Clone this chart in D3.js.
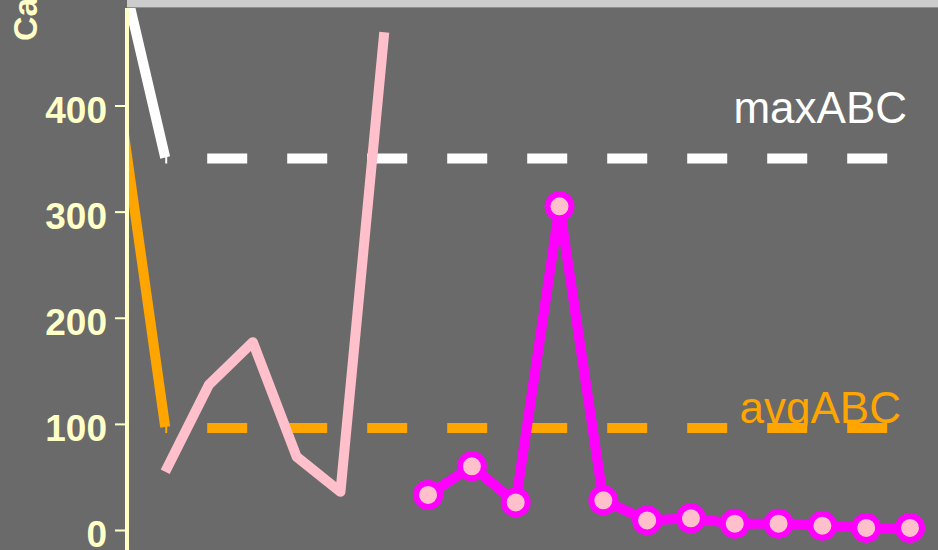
<!DOCTYPE html>
<html>
<head>
<meta charset="utf-8">
<script src="https://cdn.jsdelivr.net/npm/d3@7"></script>
<style>
  body { margin: 0; background: #6a6a6a; overflow: hidden; }
  text { font-family: "Liberation Sans", Arial, sans-serif; }
</style>
</head>
<body>
<svg id="chart"></svg>
<script>
// data
var categories = ["1", "2", "3", "4", "5", "6", "7", "8", "9", "10",
                  "11", "12", "13", "14", "15", "16", "17", "18", "19"];
var whiteValues   = [528, 351, null, null, null, null, null, null, null, null,
                     null, null, null, null, null, null, null, null, null];
var orangeValues  = [390, 97, null, null, null, null, null, null, null, null,
                     null, null, null, null, null, null, null, null, null];
var pinkValues    = [null, 55, 137, 177, 69, 36, 469, null, null, null,
                     null, null, null, null, null, null, null, null, null];
var magentaValues = [null, null, null, null, null, null, null, 33, 60, 26,
                     305, 28, 9, 11, 6, 6, 4, 2, 2];
var maxABC = 350;
var avgABC = 96;
var yTicks = [0, 100, 200, 300, 400];
var yLabel = "Calls";

var width = 938, height = 550;
var axisColor = "#ffffc8";

var svg = d3.select("#chart")
    .attr("width", width)
    .attr("height", height);

svg.append("rect")
    .attr("width", width).attr("height", height)
    .attr("fill", "#6a6a6a");

// set the ranges
var x = d3.scalePoint()
    .domain(categories)
    .range([121.4, 910]);
var y = d3.scaleLinear()
    .domain([0, 400])
    .range([530, 105.5]);

// title strip at the very top (cut off)
svg.append("rect")
    .attr("x", 127).attr("y", 0)
    .attr("width", width - 127).attr("height", 7)
    .attr("fill", "#cccccc");
svg.append("line")
    .attr("x1", 127).attr("x2", width)
    .attr("y1", 7.5).attr("y2", 7.5)
    .attr("stroke", "#8f8f8f").attr("stroke-width", 1);

// clip for the plot area
svg.append("clipPath").attr("id", "plotClip")
  .append("rect")
    .attr("x", 127).attr("y", 8)
    .attr("width", width - 127).attr("height", height);

var plot = svg.append("g").attr("clip-path", "url(#plotClip)");

function lineFor(values) {
  return d3.line()
      .defined(function(d) { return d != null; })
      .x(function(d, i) { return x(categories[i]); })
      .y(function(d) { return y(d); })(values);
}

// reference lines
function refLine(value, color) {
  plot.append("line")
      .attr("x1", x(categories[1])).attr("x2", x(categories[18]))
      .attr("y1", y(value)).attr("y2", y(value))
      .attr("stroke", color)
      .attr("stroke-width", 10)
      .attr("stroke-dasharray", "40,40")
      .attr("stroke-dashoffset", 38);
}
refLine(maxABC, "#ffffff");
refLine(avgABC, "#ffa500");

// series lines
[[whiteValues, "#ffffff"], [orangeValues, "#ffa500"], [pinkValues, "#ffc0cb"]]
  .forEach(function(s) {
    plot.append("path")
        .attr("d", lineFor(s[0]))
        .attr("fill", "none")
        .attr("stroke", s[1])
        .attr("stroke-width", 10)
        .attr("stroke-linejoin", "round");
  });

plot.append("path")
    .attr("d", lineFor(magentaValues))
    .attr("fill", "none")
    .attr("stroke", "#ff00ff")
    .attr("stroke-width", 10)
    .attr("stroke-linejoin", "round");

var pts = magentaValues
    .map(function(d, i) { return {v: d, c: categories[i]}; })
    .filter(function(d) { return d.v != null; });

plot.selectAll(".dot")
    .data(pts)
  .enter().append("circle")
    .attr("class", "dot")
    .attr("cx", function(d) { return x(d.c); })
    .attr("cy", function(d) { return y(d.v); })
    .attr("r", 12)
    .attr("fill", "#ffc0cb")
    .attr("stroke", "#ff00ff")
    .attr("stroke-width", 6);

// labels for the reference lines
plot.append("text")
    .attr("x", 907).attr("y", y(maxABC) - 36)
    .attr("text-anchor", "end")
    .attr("font-size", 44)
    .attr("fill", "#ffffff")
    .text("maxABC");
plot.append("text")
    .attr("x", 901).attr("y", y(avgABC) - 5)
    .attr("text-anchor", "end")
    .attr("font-size", 44)
    .attr("fill", "#ffa500")
    .text("avgABC");

// y axis
var yAxis = svg.append("g")
    .attr("transform", "translate(127,0)")
    .call(d3.axisLeft(y).tickValues(yTicks).tickSize(12).tickPadding(8));
yAxis.select(".domain")
    .attr("d", "M0,8V" + height)
    .attr("stroke", axisColor)
    .attr("stroke-width", 4);
yAxis.selectAll(".tick line")
    .attr("stroke", axisColor)
    .attr("stroke-width", 2);
yAxis.selectAll(".tick text")
    .attr("fill", axisColor)
    .attr("font-size", 37)
    .attr("font-weight", "bold")
    .attr("font-family", "'Liberation Sans', Arial, sans-serif")
    .attr("dy", "0.45em");

svg.append("text")
    .attr("transform", "translate(37,41) rotate(-90)")
    .attr("fill", axisColor)
    .attr("font-size", 34)
    .attr("font-weight", "bold")
    .text(yLabel);
</script>
</body>
</html>
